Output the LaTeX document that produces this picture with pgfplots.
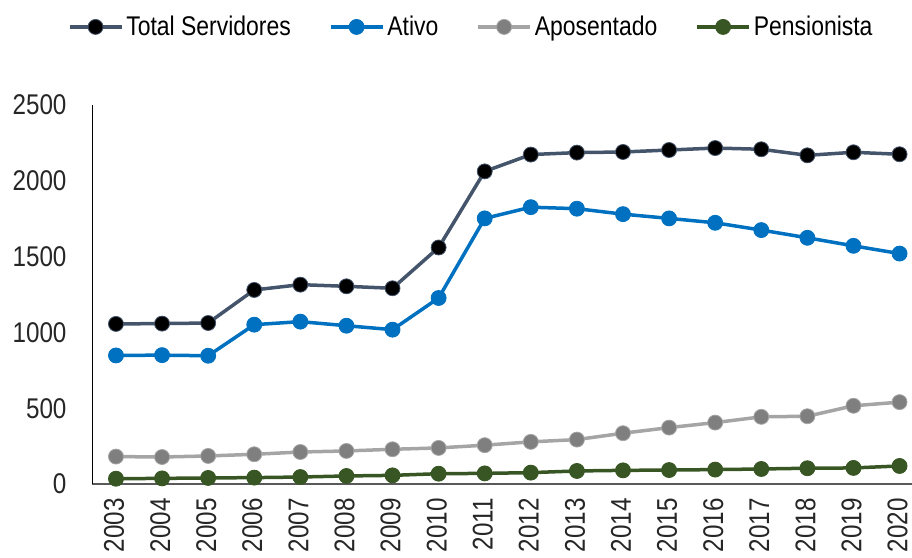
\documentclass[border=0pt]{standalone}
\usepackage{fontspec}
\setmainfont{Liberation Sans}[FakeStretch=0.85]
\usepackage{pgfplots}
\pgfplotsset{compat=1.18}
\definecolor{totc}{HTML}{44546A}
\definecolor{ativc}{HTML}{0070C0}
\definecolor{apoc}{HTML}{A5A5A5}
\definecolor{apom}{HTML}{7F7F7F}
\definecolor{penc}{HTML}{375623}
\definecolor{axc}{HTML}{595959}
\begin{document}
\begin{tikzpicture}
\useasboundingbox (0pt,0pt) rectangle (912pt,557pt);
\begin{axis}[
  at={(92pt,73pt)}, anchor=south west,
  scale only axis, width=820pt, height=379pt,
  xmin=2002.48, xmax=2020.27, ymin=0, ymax=2500,
  axis x line=bottom, axis y line=left,
  x axis line style={-, draw=axc, line width=2pt},
  y axis line style={-, draw=black, line width=0.8pt},
  xtick={2003,...,2020}, ytick={0,500,...,2500},
  major tick length=0pt,
  /pgf/number format/1000 sep={},
  /pgf/number format/assume math mode=true,
  tick label style={font=\fontsize{28.5}{32}\selectfont, text=black!85},
  xticklabel style={rotate=90, anchor=east, text depth=0pt, inner sep=0pt, xshift=-14pt, yshift=2pt},
  yticklabel style={anchor=east, xshift=-22pt},
  legend columns=4,
  legend style={at={(0.463,1.206)}, anchor=center, draw=none, fill=none,
    font=\fontsize{27}{30}\selectfont,
    /tikz/every even column/.append style={column sep=35pt},
    nodes={inner xsep=3pt}},
  legend image code/.code={
    \draw[mark repeat=2,mark phase=2] plot coordinates {(0pt,0pt) (26pt,0pt) (52pt,0pt)};},
  every axis plot/.append style={line width=3.5pt, mark size=7.5pt},
]
\addplot[color=totc, mark=*, mark options={fill=black, draw=totc, line width=0.8pt}] coordinates {
(2003,1056)(2004,1058)(2005,1062)(2006,1280)(2007,1315)(2008,1304)(2009,1291)(2010,1560)(2011,2062)(2012,2173)(2013,2186)(2014,2190)(2015,2203)(2016,2216)(2017,2208)(2018,2168)(2019,2188)(2020,2175)};
\addlegendentry{Total Servidores}
\addplot[color=ativc, mark=*, mark options={fill=ativc, draw=ativc, line width=0.8pt}] coordinates {
(2003,848)(2004,850)(2005,846)(2006,1051)(2007,1071)(2008,1044)(2009,1018)(2010,1227)(2011,1752)(2012,1826)(2013,1816)(2014,1780)(2015,1752)(2016,1723)(2017,1675)(2018,1624)(2019,1571)(2020,1520)};
\addlegendentry{Ativo}
\addplot[color=apoc, mark=*, mark options={fill=apom, draw=apoc, line width=0.8pt}] coordinates {
(2003,181)(2004,178)(2005,185)(2006,196)(2007,211)(2008,218)(2009,229)(2010,238)(2011,256)(2012,278)(2013,293)(2014,335)(2015,372)(2016,405)(2017,443)(2018,447)(2019,516)(2020,540)};
\addlegendentry{Aposentado}
\addplot[color=penc, mark=*, mark options={fill=penc, draw=penc, line width=0.8pt}] coordinates {
(2003,35)(2004,37)(2005,40)(2006,42)(2007,46)(2008,53)(2009,57)(2010,68)(2011,70)(2012,75)(2013,86)(2014,90)(2015,92)(2016,95)(2017,99)(2018,104)(2019,106)(2020,119)};
\addlegendentry{Pensionista}
\end{axis}
\end{tikzpicture}
\end{document}
